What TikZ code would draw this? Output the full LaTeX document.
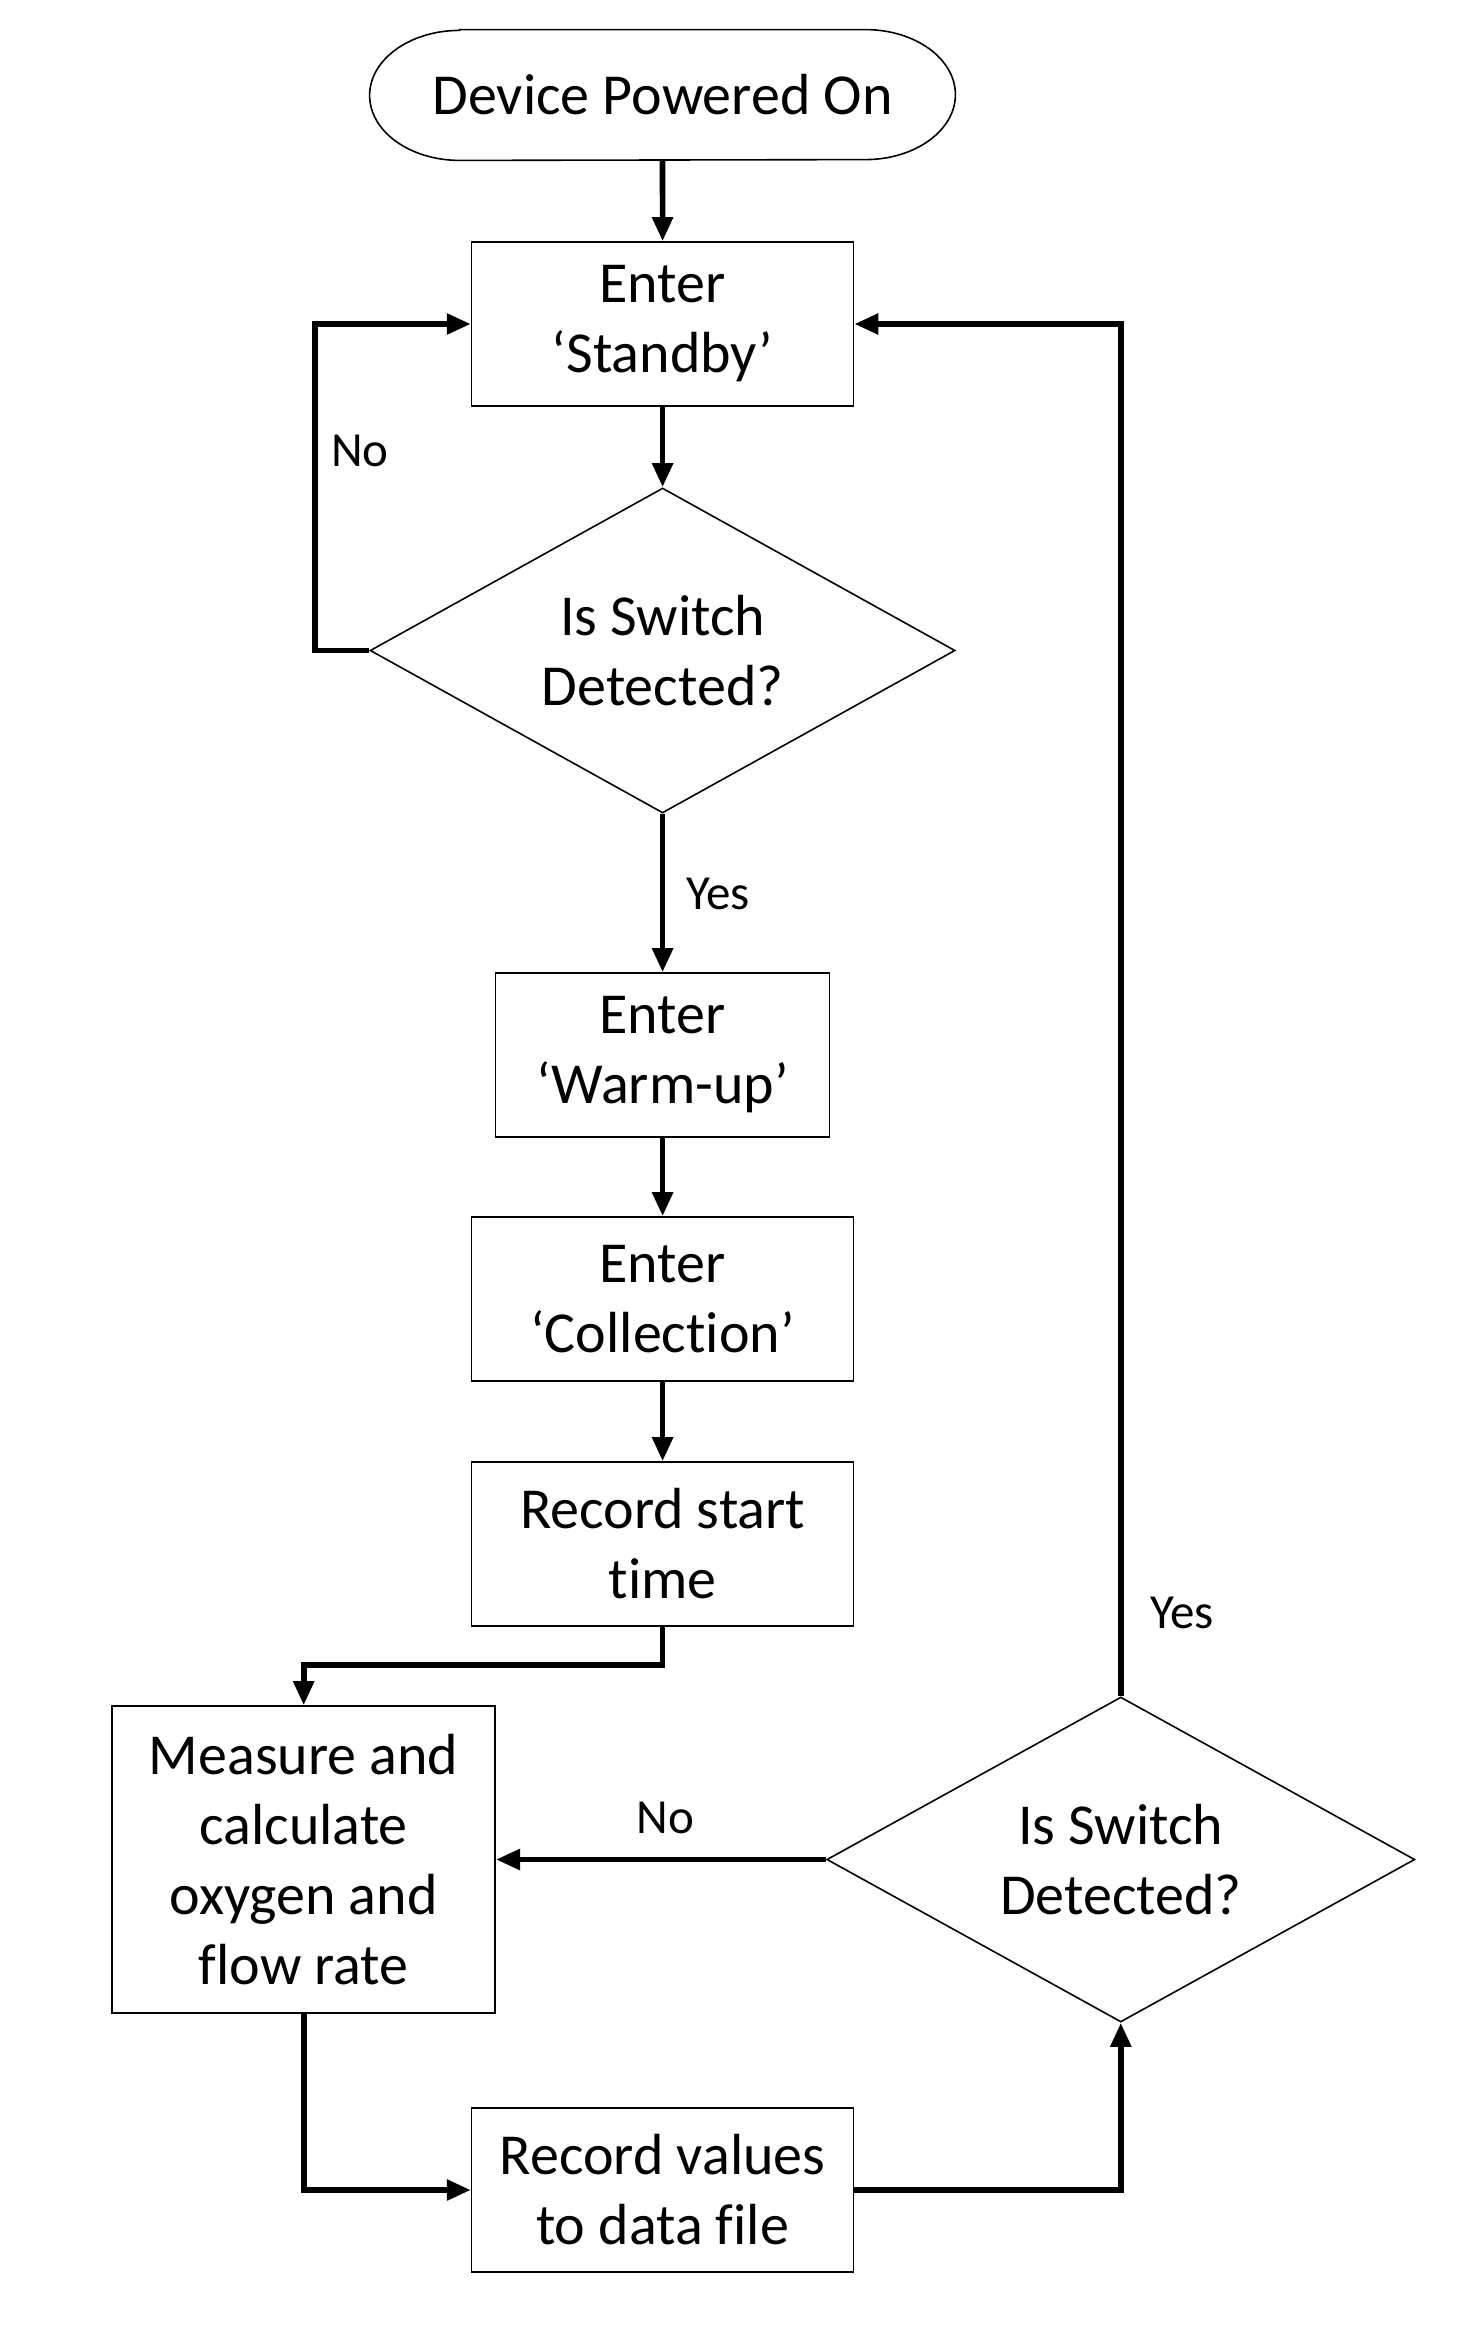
\documentclass[tikz,border=0pt]{standalone}
\usepackage{fontspec}
\setmainfont{Carlito}[Ligatures={NoCommon,NoRequired,NoContextual}]
\usetikzlibrary{shapes.geometric,arrows.meta}
\begin{document}
\begin{tikzpicture}[x=0.5pt,y=-0.5pt,
 every node/.style={font=\fontsize{29pt}{35pt}\selectfont, align=center},
 procbox/.style={draw, line width=0.8pt, rectangle, inner sep=0pt, minimum width=191pt, minimum height=82pt},
 termbox/.style={inner sep=0pt, minimum width=292.5pt, minimum height=65pt},
 termline/.style={line width=0.8pt},
 decbox/.style={draw, line width=0.8pt, diamond, aspect=1.8, inner sep=0pt, minimum width=292.5pt, minimum height=162.5pt},
 flow/.style={line width=2.8pt, -{Triangle[length=12pt,width=10pt]}},
 lbl/.style={font=\fontsize{24.5pt}{29pt}\selectfont, inner sep=0pt}]
\useasboundingbox (0,0) rectangle (1482,2340);

% nodes
\node[termbox] (start) at (662.5,95) {Device Powered On};
\draw[termline] ([xshift=45pt]start.north west) -- ([xshift=-45pt]start.north east)
  arc[start angle=90,end angle=-90,x radius=45pt,y radius=32.5pt]
  -- ([xshift=45pt]start.south west)
  arc[start angle=270,end angle=90,x radius=45pt,y radius=32.5pt] -- cycle;
\node[procbox] (standby) at (662.6,324) {Enter\\‘Standby’};
\node[decbox] (dec1) at (662.6,650.5) {Is Switch\\Detected?};
\node[procbox, minimum width=167pt] (warm) at (662.6,1055) {Enter\\‘Warm-up’};
\node[procbox] (coll) at (662.6,1299) {Enter\\‘Collection’};
\node[procbox] (rstart) at (662.6,1544) {Record start\\time};
\node[procbox, minimum width=191.5pt, minimum height=153.5pt] (meas) at (303.7,1859.5) {Measure and\\calculate\\oxygen and\\flow rate};
\node[procbox] (rval) at (662.6,2190) {Record values\\to data file};
\node[decbox, minimum width=294pt] (dec2) at (1120.8,1859.5) {Is Switch\\Detected?};

% labels
\node[lbl] (no1) at (360,451) {No};
\node[lbl] (yes1) at (718,894) {Yes};
\node[lbl] (no2) at (665.6,1818) {No};
\node[lbl] (yes2) at (1182,1613) {Yes};

% bend points
\coordinate (nol) at (315,324);
\coordinate (rs) at (303.7,1665);

% connectors
\draw[flow] (start.south) -- (standby.north);
\draw[flow] (standby.south) -- (dec1.north);
\draw[flow] (dec1.west) -| (nol) -- (standby.west);
\draw[flow] (dec1.south) -- (warm.north);
\draw[flow] (warm.south) -- (coll.north);
\draw[flow] (coll.south) -- (rstart.north);
\draw[flow] (rstart.south) |- (rs) -- (meas.north);
\draw[flow] (meas.south) |- (rval.west);
\draw[flow] (rval.east) -| (dec2.south);
\draw[flow] (dec2.west) -- (meas.east);
\draw[flow] (dec2.north) |- (standby.east);
\end{tikzpicture}
\end{document}
